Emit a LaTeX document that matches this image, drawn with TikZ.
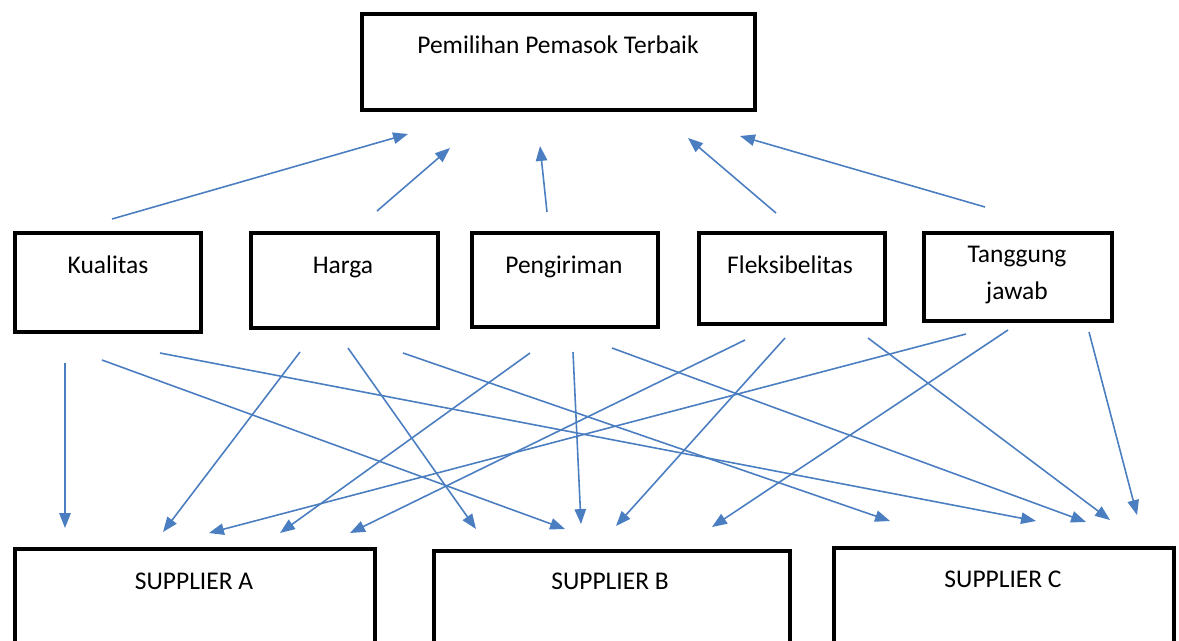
\documentclass[tikz,border=0pt]{standalone}
\usepackage{fontspec}
\setmainfont{Carlito}
\usetikzlibrary{arrows.meta,fit}
\definecolor{arrowblue}{RGB}{74,126,193}
\tikzset{
  box/.style={draw=black, line width=2.3pt, inner sep=0pt},
  lbl/.style={font=\fontsize{14.5}{20.5}\selectfont, inner sep=0pt},
  arr/.style={arrowblue, line width=0.9pt, -{Triangle[length=8.5pt,width=6.5pt]}}
}
\begin{document}
\begin{tikzpicture}[x=0.02cm,y=-0.02cm]
\useasboundingbox (0,0) rectangle (1179,640);
% boxes
\node[box, fit={(362,14) (755,110)}] (goal) {};
\node[box, fit={(15,233) (201,332)}] (kual) {};
\node[box, fit={(251,233) (438,328)}] (harga) {};
\node[box, fit={(472,233) (658,327)}] (kirim) {};
\node[box, fit={(699,233) (885,324)}] (fleks) {};
\node[box, fit={(924,233) (1112,321)}] (tjawab) {};
\node[box, fit={(15,549) (375,670)}] (supA) {};
\node[box, fit={(434,551) (790,670)}] (supB) {};
\node[box, fit={(834,548) (1174,670)}] (supC) {};
% texts
\node[lbl, anchor=base] (goalT) at (558,53) {Pemilihan Pemasok Terbaik};
\node[lbl, anchor=base] (kualT) at (108,273) {Kualitas};
\node[lbl, anchor=base] (hargaT) at (343,273) {Harga};
\node[lbl, anchor=base] (kirimT) at (564,273) {Pengiriman};
\node[lbl, anchor=base] (fleksT) at (790,273) {Fleksibelitas};
\node[lbl, align=center] (tjawabT) at (1017,275) {Tanggung\\jawab};
\node[lbl, anchor=base] (supAT) at (194,589) {SUPPLIER A};
\node[lbl, anchor=base] (supBT) at (610,589) {SUPPLIER B};
\node[lbl, anchor=base] (supCT) at (1003,587) {SUPPLIER C};
% arrow ends, upward
\coordinate (kUp) at (112,219);
\coordinate (hUp) at (377,211);
\coordinate (pUp) at (547,212);
\coordinate (fUp) at (776,213);
\coordinate (tUp) at (985,207);
\coordinate (gK) at (408,134);
\coordinate (gH) at (450,148);
\coordinate (gP) at (540,146);
\coordinate (gF) at (688,138);
\coordinate (gT) at (740,136);
% arrow ends, downward
\coordinate (kA) at (65,363);
\coordinate (kB) at (102,360);
\coordinate (kC) at (160,353);
\coordinate (hA) at (300,352);
\coordinate (hB) at (348,348);
\coordinate (hC) at (403,353);
\coordinate (pA) at (530,353);
\coordinate (pB) at (573,352);
\coordinate (pC) at (612,348);
\coordinate (fA) at (745,340);
\coordinate (fB) at (785,338);
\coordinate (fC) at (868,338);
\coordinate (tA) at (966,334);
\coordinate (tB) at (1008,330);
\coordinate (tC) at (1089,332);
\coordinate (aK) at (65,528);
\coordinate (aH) at (163,532);
\coordinate (aT) at (209,533);
\coordinate (aP) at (280,533);
\coordinate (aF) at (350,533);
\coordinate (bH) at (476,529);
\coordinate (bK) at (565,529);
\coordinate (bP) at (581,524);
\coordinate (bF) at (616,526);
\coordinate (bT) at (712,527);
\coordinate (cH) at (890,521);
\coordinate (cK) at (1036,521);
\coordinate (cP) at (1086,522);
\coordinate (cF) at (1110,520);
\coordinate (cT) at (1137,515);
% criteria to goal
\draw[arr] (kUp) -- (gK);
\draw[arr] (hUp) -- (gH);
\draw[arr] (pUp) -- (gP);
\draw[arr] (fUp) -- (gF);
\draw[arr] (tUp) -- (gT);
% criteria to suppliers
\draw[arr] (kA) -- (aK);
\draw[arr] (kB) -- (bK);
\draw[arr] (kC) -- (cK);
\draw[arr] (hA) -- (aH);
\draw[arr] (hB) -- (bH);
\draw[arr] (hC) -- (cH);
\draw[arr] (pA) -- (aP);
\draw[arr] (pB) -- (bP);
\draw[arr] (pC) -- (cP);
\draw[arr] (fA) -- (aF);
\draw[arr] (fB) -- (bF);
\draw[arr] (fC) -- (cF);
\draw[arr] (tA) -- (aT);
\draw[arr] (tB) -- (bT);
\draw[arr] (tC) -- (cT);
\end{tikzpicture}
\end{document}
